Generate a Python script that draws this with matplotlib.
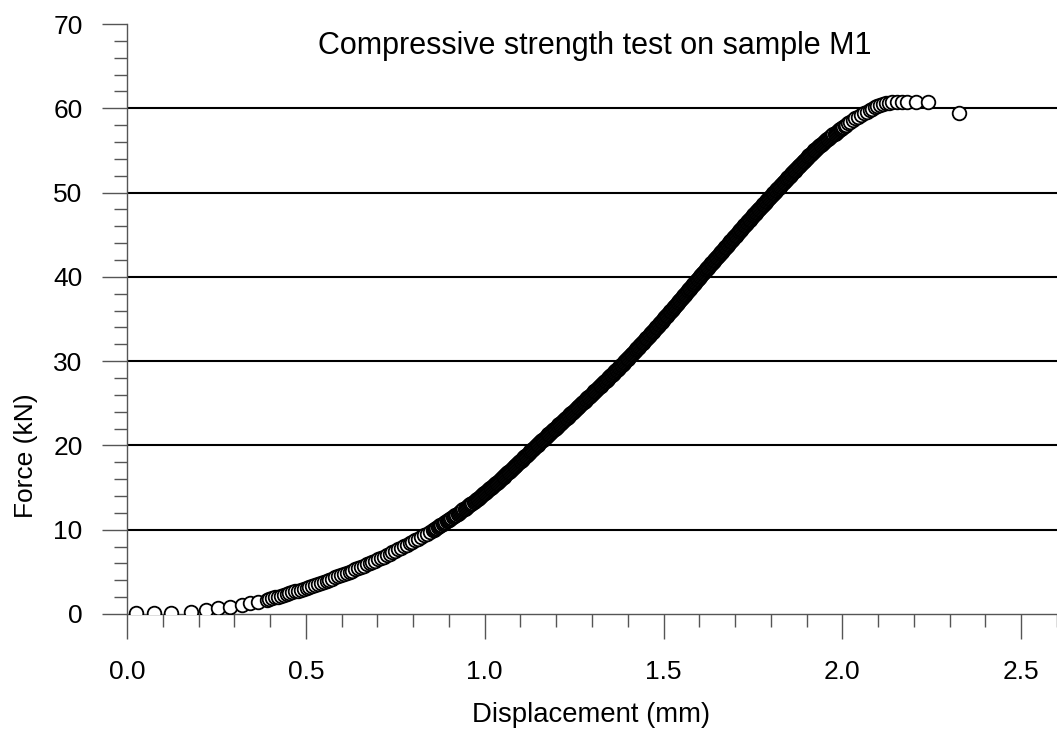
import numpy as np
import matplotlib
matplotlib.use("Agg")
import matplotlib.pyplot as plt
from matplotlib.ticker import MultipleLocator, FormatStrFormatter

plt.rcParams['font.family'] = ['Liberation Sans', 'DejaVu Sans']

# toe region: first readings, sparse while the platens seat
toe_disp = [0.025, 0.074, 0.123, 0.178, 0.221, 0.255, 0.288, 0.320, 0.344, 0.367, 0.390]
toe_force = [0.08, 0.10, 0.14, 0.22, 0.50, 0.68, 0.87, 1.07, 1.27, 1.46, 1.66]

# stiffening part of the curve
bed_disp = [0.398, 0.406, 0.414, 0.422, 0.430, 0.438, 0.446, 0.454, 0.462, 0.470,
            0.478, 0.486, 0.494, 0.502, 0.510, 0.518, 0.526, 0.534, 0.542, 0.550,
            0.558, 0.566, 0.574, 0.582, 0.590, 0.598, 0.606, 0.614, 0.622, 0.630,
            0.638, 0.646, 0.654, 0.662, 0.670, 0.678, 0.686, 0.694, 0.702, 0.710,
            0.718, 0.726, 0.734, 0.742, 0.750, 0.758, 0.766, 0.774, 0.782, 0.790,
            0.798, 0.806, 0.814, 0.822, 0.830, 0.838, 0.846, 0.854]
bed_force = [1.76, 1.86, 1.96, 2.05, 2.16, 2.26, 2.36, 2.46, 2.57, 2.68,
             2.78, 2.89, 3.01, 3.12, 3.23, 3.35, 3.47, 3.58, 3.70, 3.83,
             3.95, 4.08, 4.21, 4.34, 4.47, 4.60, 4.73, 4.87, 5.01, 5.15,
             5.29, 5.44, 5.58, 5.73, 5.88, 6.03, 6.18, 6.34, 6.50, 6.66,
             6.82, 6.99, 7.15, 7.32, 7.49, 7.67, 7.84, 8.02, 8.20, 8.38,
             8.56, 8.75, 8.94, 9.13, 9.32, 9.51, 9.71, 9.91]

# main loading branch, one reading per 0.1 kN
load_disp = [
    0.8570, 0.8607, 0.8643, 0.8680, 0.8716, 0.8753, 0.8789, 0.8826, 0.8862, 0.8899,
    0.8935, 0.8969, 0.9003, 0.9037, 0.9071, 0.9105, 0.9139, 0.9173, 0.9207, 0.9241,
    0.9275, 0.9307, 0.9339, 0.9371, 0.9403, 0.9435, 0.9467, 0.9499, 0.9531, 0.9563,
    0.9595, 0.9626, 0.9656, 0.9687, 0.9717, 0.9748, 0.9778, 0.9809, 0.9839, 0.9870,
    0.9900, 0.9928, 0.9955, 0.9983, 1.0010, 1.0038, 1.0065, 1.0093, 1.0120, 1.0148,
    1.0175, 1.0203, 1.0230, 1.0258, 1.0285, 1.0313, 1.0340, 1.0368, 1.0395, 1.0423,
    1.0450, 1.0476, 1.0501, 1.0527, 1.0552, 1.0578, 1.0603, 1.0629, 1.0654, 1.0680,
    1.0705, 1.0731, 1.0756, 1.0782, 1.0807, 1.0833, 1.0858, 1.0884, 1.0909, 1.0935,
    1.0960, 1.0985, 1.1009, 1.1034, 1.1058, 1.1083, 1.1107, 1.1132, 1.1156, 1.1181,
    1.1205, 1.1230, 1.1254, 1.1279, 1.1303, 1.1328, 1.1352, 1.1377, 1.1401, 1.1426,
    1.1450, 1.1476, 1.1501, 1.1527, 1.1552, 1.1578, 1.1603, 1.1629, 1.1654, 1.1680,
    1.1705, 1.1731, 1.1756, 1.1782, 1.1807, 1.1833, 1.1858, 1.1884, 1.1909, 1.1935,
    1.1960, 1.1986, 1.2011, 1.2037, 1.2062, 1.2088, 1.2113, 1.2139, 1.2164, 1.2190,
    1.2215, 1.2241, 1.2266, 1.2292, 1.2317, 1.2343, 1.2368, 1.2394, 1.2419, 1.2445,
    1.2470, 1.2495, 1.2520, 1.2545, 1.2570, 1.2595, 1.2620, 1.2645, 1.2670, 1.2695,
    1.2720, 1.2745, 1.2770, 1.2795, 1.2820, 1.2845, 1.2870, 1.2895, 1.2920, 1.2945,
    1.2970, 1.2995, 1.3019, 1.3044, 1.3068, 1.3093, 1.3117, 1.3142, 1.3166, 1.3191,
    1.3215, 1.3240, 1.3264, 1.3289, 1.3313, 1.3338, 1.3362, 1.3387, 1.3411, 1.3436,
    1.3460, 1.3484, 1.3507, 1.3531, 1.3554, 1.3578, 1.3601, 1.3625, 1.3648, 1.3672,
    1.3695, 1.3719, 1.3742, 1.3766, 1.3789, 1.3813, 1.3836, 1.3860, 1.3883, 1.3907,
    1.3930, 1.3952, 1.3974, 1.3996, 1.4018, 1.4040, 1.4062, 1.4084, 1.4106, 1.4128,
    1.4150, 1.4172, 1.4194, 1.4216, 1.4238, 1.4260, 1.4282, 1.4304, 1.4326, 1.4348,
    1.4370, 1.4392, 1.4413, 1.4435, 1.4456, 1.4478, 1.4499, 1.4521, 1.4542, 1.4564,
    1.4585, 1.4607, 1.4628, 1.4650, 1.4671, 1.4693, 1.4714, 1.4736, 1.4757, 1.4779,
    1.4800, 1.4821, 1.4841, 1.4862, 1.4882, 1.4903, 1.4923, 1.4944, 1.4964, 1.4985,
    1.5005, 1.5026, 1.5046, 1.5067, 1.5087, 1.5108, 1.5128, 1.5149, 1.5169, 1.5190,
    1.5210, 1.5230, 1.5250, 1.5270, 1.5290, 1.5310, 1.5330, 1.5350, 1.5370, 1.5390,
    1.5410, 1.5430, 1.5450, 1.5470, 1.5490, 1.5510, 1.5530, 1.5550, 1.5570, 1.5590,
    1.5610, 1.5630, 1.5650, 1.5670, 1.5690, 1.5710, 1.5730, 1.5750, 1.5770, 1.5790,
    1.5810, 1.5830, 1.5850, 1.5870, 1.5890, 1.5910, 1.5930, 1.5950, 1.5970, 1.5990,
    1.6010, 1.6031, 1.6051, 1.6072, 1.6092, 1.6113, 1.6133, 1.6154, 1.6174, 1.6195,
    1.6215, 1.6236, 1.6256, 1.6277, 1.6297, 1.6318, 1.6338, 1.6359, 1.6379, 1.6400,
    1.6420, 1.6441, 1.6461, 1.6482, 1.6502, 1.6523, 1.6543, 1.6564, 1.6584, 1.6605,
    1.6625, 1.6646, 1.6666, 1.6687, 1.6707, 1.6728, 1.6748, 1.6769, 1.6789, 1.6810,
    1.6830, 1.6851, 1.6871, 1.6892, 1.6912, 1.6933, 1.6953, 1.6974, 1.6994, 1.7015,
    1.7035, 1.7056, 1.7076, 1.7097, 1.7117, 1.7138, 1.7158, 1.7179, 1.7199, 1.7220,
    1.7240, 1.7261, 1.7282, 1.7303, 1.7324, 1.7345, 1.7366, 1.7387, 1.7408, 1.7429,
    1.7450, 1.7471, 1.7492, 1.7513, 1.7534, 1.7555, 1.7576, 1.7597, 1.7618, 1.7639,
    1.7660, 1.7682, 1.7703, 1.7725, 1.7746, 1.7768, 1.7789, 1.7811, 1.7832, 1.7854,
    1.7875, 1.7897, 1.7918, 1.7940, 1.7961, 1.7983, 1.8004, 1.8026, 1.8047, 1.8069,
    1.8090, 1.8112, 1.8134, 1.8156, 1.8178, 1.8200, 1.8222, 1.8244, 1.8266, 1.8288,
    1.8310, 1.8332, 1.8354, 1.8376, 1.8398, 1.8420, 1.8442, 1.8464, 1.8486, 1.8508,
    1.8530, 1.8553, 1.8575, 1.8598, 1.8620, 1.8643, 1.8665, 1.8688, 1.8710, 1.8733,
    1.8755, 1.8778, 1.8800, 1.8823, 1.8845, 1.8868, 1.8890, 1.8913, 1.8935, 1.8958,
    1.8980, 1.9004, 1.9028, 1.9052, 1.9076, 1.9100, 1.9124, 1.9148, 1.9172, 1.9196,
    1.9220, 1.9247, 1.9274, 1.9301, 1.9328, 1.9355, 1.9382, 1.9409, 1.9436, 1.9463,
    1.9490, 1.9519, 1.9548, 1.9577, 1.9606, 1.9635, 1.9664, 1.9693, 1.9722, 1.9751,
    1.9780, 1.9811, 1.9842, 1.9873, 1.9904, 1.9935, 1.9966, 1.9997, 2.0028, 2.0059,
]
load_force = [
    10.0, 10.1, 10.2, 10.3, 10.4, 10.5, 10.6, 10.7, 10.8, 10.9,
    11.0, 11.1, 11.2, 11.3, 11.4, 11.5, 11.6, 11.7, 11.8, 11.9,
    12.0, 12.1, 12.2, 12.3, 12.4, 12.5, 12.6, 12.7, 12.8, 12.9,
    13.0, 13.1, 13.2, 13.3, 13.4, 13.5, 13.6, 13.7, 13.8, 13.9,
    14.0, 14.1, 14.2, 14.3, 14.4, 14.5, 14.6, 14.7, 14.8, 14.9,
    15.0, 15.1, 15.2, 15.3, 15.4, 15.5, 15.6, 15.7, 15.8, 15.9,
    16.0, 16.1, 16.2, 16.3, 16.4, 16.5, 16.6, 16.7, 16.8, 16.9,
    17.0, 17.1, 17.2, 17.3, 17.4, 17.5, 17.6, 17.7, 17.8, 17.9,
    18.0, 18.1, 18.2, 18.3, 18.4, 18.5, 18.6, 18.7, 18.8, 18.9,
    19.0, 19.1, 19.2, 19.3, 19.4, 19.5, 19.6, 19.7, 19.8, 19.9,
    20.0, 20.1, 20.2, 20.3, 20.4, 20.5, 20.6, 20.7, 20.8, 20.9,
    21.0, 21.1, 21.2, 21.3, 21.4, 21.5, 21.6, 21.7, 21.8, 21.9,
    22.0, 22.1, 22.2, 22.3, 22.4, 22.5, 22.6, 22.7, 22.8, 22.9,
    23.0, 23.1, 23.2, 23.3, 23.4, 23.5, 23.6, 23.7, 23.8, 23.9,
    24.0, 24.1, 24.2, 24.3, 24.4, 24.5, 24.6, 24.7, 24.8, 24.9,
    25.0, 25.1, 25.2, 25.3, 25.4, 25.5, 25.6, 25.7, 25.8, 25.9,
    26.0, 26.1, 26.2, 26.3, 26.4, 26.5, 26.6, 26.7, 26.8, 26.9,
    27.0, 27.1, 27.2, 27.3, 27.4, 27.5, 27.6, 27.7, 27.8, 27.9,
    28.0, 28.1, 28.2, 28.3, 28.4, 28.5, 28.6, 28.7, 28.8, 28.9,
    29.0, 29.1, 29.2, 29.3, 29.4, 29.5, 29.6, 29.7, 29.8, 29.9,
    30.0, 30.1, 30.2, 30.3, 30.4, 30.5, 30.6, 30.7, 30.8, 30.9,
    31.0, 31.1, 31.2, 31.3, 31.4, 31.5, 31.6, 31.7, 31.8, 31.9,
    32.0, 32.1, 32.2, 32.3, 32.4, 32.5, 32.6, 32.7, 32.8, 32.9,
    33.0, 33.1, 33.2, 33.3, 33.4, 33.5, 33.6, 33.7, 33.8, 33.9,
    34.0, 34.1, 34.2, 34.3, 34.4, 34.5, 34.6, 34.7, 34.8, 34.9,
    35.0, 35.1, 35.2, 35.3, 35.4, 35.5, 35.6, 35.7, 35.8, 35.9,
    36.0, 36.1, 36.2, 36.3, 36.4, 36.5, 36.6, 36.7, 36.8, 36.9,
    37.0, 37.1, 37.2, 37.3, 37.4, 37.5, 37.6, 37.7, 37.8, 37.9,
    38.0, 38.1, 38.2, 38.3, 38.4, 38.5, 38.6, 38.7, 38.8, 38.9,
    39.0, 39.1, 39.2, 39.3, 39.4, 39.5, 39.6, 39.7, 39.8, 39.9,
    40.0, 40.1, 40.2, 40.3, 40.4, 40.5, 40.6, 40.7, 40.8, 40.9,
    41.0, 41.1, 41.2, 41.3, 41.4, 41.5, 41.6, 41.7, 41.8, 41.9,
    42.0, 42.1, 42.2, 42.3, 42.4, 42.5, 42.6, 42.7, 42.8, 42.9,
    43.0, 43.1, 43.2, 43.3, 43.4, 43.5, 43.6, 43.7, 43.8, 43.9,
    44.0, 44.1, 44.2, 44.3, 44.4, 44.5, 44.6, 44.7, 44.8, 44.9,
    45.0, 45.1, 45.2, 45.3, 45.4, 45.5, 45.6, 45.7, 45.8, 45.9,
    46.0, 46.1, 46.2, 46.3, 46.4, 46.5, 46.6, 46.7, 46.8, 46.9,
    47.0, 47.1, 47.2, 47.3, 47.4, 47.5, 47.6, 47.7, 47.8, 47.9,
    48.0, 48.1, 48.2, 48.3, 48.4, 48.5, 48.6, 48.7, 48.8, 48.9,
    49.0, 49.1, 49.2, 49.3, 49.4, 49.5, 49.6, 49.7, 49.8, 49.9,
    50.0, 50.1, 50.2, 50.3, 50.4, 50.5, 50.6, 50.7, 50.8, 50.9,
    51.0, 51.1, 51.2, 51.3, 51.4, 51.5, 51.6, 51.7, 51.8, 51.9,
    52.0, 52.1, 52.2, 52.3, 52.4, 52.5, 52.6, 52.7, 52.8, 52.9,
    53.0, 53.1, 53.2, 53.3, 53.4, 53.5, 53.6, 53.7, 53.8, 53.9,
    54.0, 54.1, 54.2, 54.3, 54.4, 54.5, 54.6, 54.7, 54.8, 54.9,
    55.0, 55.1, 55.2, 55.3, 55.4, 55.5, 55.6, 55.7, 55.8, 55.9,
    56.0, 56.1, 56.2, 56.3, 56.4, 56.5, 56.6, 56.7, 56.8, 56.9,
    57.0, 57.1, 57.2, 57.3, 57.4, 57.5, 57.6, 57.7, 57.8, 57.9,
]

# rounding over towards the peak, readings get sparser
top_disp = [2.0090, 2.0158, 2.0226, 2.0294, 2.0362, 2.0430, 2.0513, 2.0595, 2.0678, 2.0760]
top_force = [58.0, 58.2, 58.4, 58.6, 58.8, 59.0, 59.2, 59.4, 59.6, 59.8]

# peak plateau and the first reading after failure
peak_disp = [2.082, 2.090, 2.098, 2.106, 2.114, 2.122, 2.130, 2.140, 2.152, 2.166,
             2.182, 2.206, 2.240, 2.327]
peak_force = [59.95, 60.10, 60.25, 60.37, 60.48, 60.58, 60.66, 60.73, 60.78, 60.80,
              60.80, 60.80, 60.70, 59.40]

disp = np.concatenate([toe_disp, bed_disp, load_disp, top_disp, peak_disp])
force = np.concatenate([toe_force, bed_force, load_force, top_force, peak_force])

grid_levels = [10, 20, 30, 40, 50, 60]
axis_grey = '#555555'

fig = plt.figure(figsize=(10.57, 7.34), dpi=100)
ax = fig.add_axes([0.1202, 0.1635, 0.8798, 0.8038])

for level in grid_levels:
    ax.axhline(level, color='black', lw=1.5, zorder=1)

ax.plot(disp, force, linestyle='none', marker='o', markersize=9.8,
        markerfacecolor='white', markeredgecolor='black', markeredgewidth=1.3,
        zorder=3)

ax.set_xlim(0, 2.6)
ax.set_ylim(0, 70)
ax.xaxis.set_major_locator(MultipleLocator(0.5))
ax.xaxis.set_minor_locator(MultipleLocator(0.1))
ax.xaxis.set_major_formatter(FormatStrFormatter('%.1f'))
ax.yaxis.set_major_locator(MultipleLocator(10))
ax.yaxis.set_minor_locator(MultipleLocator(2))

for side in ['top', 'right']:
    ax.spines[side].set_visible(False)
for side in ['left', 'bottom']:
    ax.spines[side].set_color(axis_grey)
    ax.spines[side].set_linewidth(1.0)

ax.tick_params(which='major', direction='out', length=18, width=1.0,
               color=axis_grey, labelsize=19, labelcolor='black')
ax.tick_params(which='minor', direction='out', length=9.4, width=1.0,
               color=axis_grey)
ax.tick_params(axis='x', which='major', pad=15)
ax.tick_params(axis='y', which='major', pad=14)

ax.text(0.503, 0.963, 'Compressive strength test on sample M1',
        transform=ax.transAxes, ha='center', va='center', fontsize=22)

fig.text(591 / 1057, 1 - 722 / 734, 'Displacement (mm)', ha='center',
         va='baseline', fontsize=19.8)
fig.text(26 / 1057, 1 - 456 / 734, 'Force (kN)', ha='center', va='center',
         rotation=90, fontsize=19)

fig.savefig('out.png', dpi=100)
